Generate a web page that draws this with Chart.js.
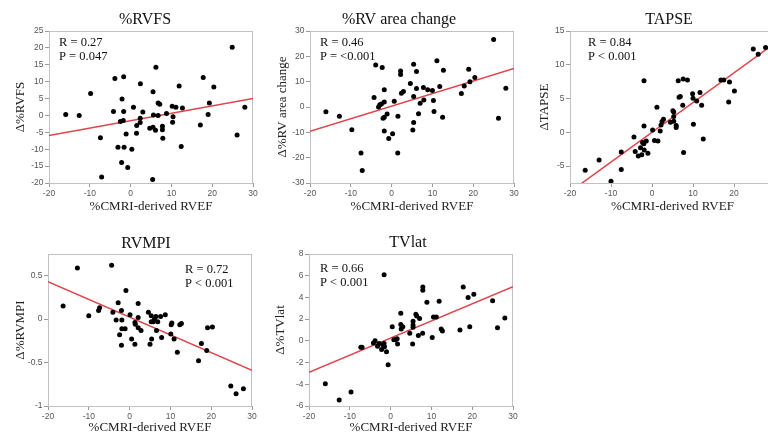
<!DOCTYPE html>
<html lang="en">
<head>
    <meta charset="UTF-8">
    <title>Echo indices vs CMRI RVEF</title>
    <script src="https://cdn.jsdelivr.net/npm/chart.js@4.4.0/dist/chart.umd.min.js"></script>
    <style type="text/css">
        html, body {
            margin: 0; padding: 0;
            background: #fff;
            overflow: hidden;
        }
        #container {
            position: relative;
            width: 768px;
            height: 434px;
            overflow: hidden;
        }
        #container canvas {
            position: absolute;
        }
    </style>
</head>

<body>
    <div id="container"></div>

    <script>
        // x axis is the same on every panel
        const xTicks = [-20, -10, 0, 10, 20, 30];

        // %RVFS
        const rvfsPts = [
            [-15.9, 0.3], [-12.6, 0], [-9.8, 6.5], [-7.4, -6.6], [-7.1, -18.2], [-3.85, 10.95],
            [-4.2, 1.2], [-3.1, -9.4], [-1.7, 11.45], [-2.1, 4.9], [-1.7, 1.2], [-2.5, -1.8],
            [-1.8, -1.5], [-2.2, -13.9], [-1.6, -9.4], [-1.1, -5.5], [-0.7, -15.4], [0.3, -10.0],
            [0.7, 2.4], [1.5, -3.0], [1.45, -5.3], [2.4, 9.4], [2.35, -0.8], [2.35, -2.1],
            [3.0, 1.0], [4.7, -3.8], [5.5, -3.5], [5.5, 7.0], [5.6, 0.1], [6.2, 14.3],
            [6.1, -4.4], [6.75, 0], [6.75, 3.7], [7.15, 3.3], [7.8, -3.2], [7.8, -4.2],
            [7.9, -6.75], [8.8, 0.6], [5.4, -19.0], [10.2, 2.7], [10.4, -0.4], [10.3, -2.0],
            [11.1, 2.4], [11.9, 8.7], [12.7, 2.2], [12.4, -9.2], [17.1, -2.8], [17.8, 11.25],
            [19.0, 0.3], [19.3, 3.7], [20.4, 8.4], [24.9, 20.2], [26.1, -5.8], [28.0, 2.4]
        ];
        const rvfsFit = [[-20, -5.96], [30, 5.0]];
        const rvfsTicks = [-20, -15, -10, -5, 0, 5, 10, 15, 20, 25];

        // %RV area change
        const rvacPts = [
            [-16.1, -1.9], [-12.8, -3.7], [-9.75, -9.0], [-7.5, -18.2], [-7.2, -25.1], [-4.3, 3.75],
            [-3.9, 16.6], [-3.2, 0], [-2.9, 0.9], [-2.5, 1.2], [-2.3, 15.6], [-2.1, -4.4],
            [-1.8, -4.0], [-1.8, 6.8], [-1.8, 2.0], [-1.8, -9.5], [-1.1, -2.8], [-0.7, -12.4],
            [0.25, -10.6], [0.65, 2.3], [1.55, -3.7], [1.5, -18.2], [2.2, 14.2], [2.2, 12.8],
            [2.4, 5.4], [2.9, 6.1], [4.6, 9.3], [5.4, 16.9], [5.4, 4.1], [5.4, -6.1],
            [5.2, -9.1], [6.1, 7.3], [6.1, 14.0], [6.6, -2.7], [7.0, 1.5], [7.8, 7.7],
            [7.9, 2.8], [8.85, 6.8], [10.0, 6.5], [10.25, 2.6], [10.4, -1.8], [11.1, 18.3],
            [11.8, 8.1], [12.5, -4.0], [12.7, 14.5], [17.1, 5.3], [17.8, 8.3], [18.9, 14.9],
            [19.2, 10.0], [20.4, 11.6], [25.0, 26.6], [26.2, -4.4], [28.0, 7.4]
        ];
        const rvacFit = [[-20, -9.6], [30, 15.2]];
        const rvacTicks = [-30, -20, -10, 0, 10, 20, 30];

        // TAPSE
        const tapsePts = [
            [-16.3, -5.6], [-12.9, -4.1], [-10.0, -7.25], [-7.5, -2.9], [-7.5, -5.5], [-4.4, -0.7],
            [-4.1, -2.85], [-3.35, -3.5], [-2.8, -2.3], [-2.5, -3.3], [-2.3, -1.5], [-2.0, -1.7],
            [-1.95, 7.65], [-1.95, 0.95], [-1.9, -2.6], [-1.4, -1.3], [-1.0, -3.1], [0.15, 0.35],
            [0.6, -1.2], [1.45, -1.3], [1.2, 3.7], [2.0, 0.2], [2.2, 1.1], [2.45, 1.6],
            [2.8, 1.95], [4.5, 1.5], [5.1, 3.2], [5.3, 3.0], [5.3, 2.35], [5.3, 1.65],
            [5.9, 1.0], [5.9, 0.7], [6.4, 7.65], [6.6, 5.2], [6.9, 5.3], [7.6, 7.9],
            [7.5, 4.0], [7.7, -3.0], [8.65, 7.75], [9.9, 5.7], [10.0, 5.05], [10.1, 1.2],
            [10.9, 4.65], [11.7, 5.9], [12.1, 4.0], [12.5, -1.0], [16.8, 7.75], [17.5, 7.75],
            [18.9, 7.45], [18.7, 4.5], [20.1, 6.1], [24.7, 12.35], [25.9, 11.55], [27.7, 12.55]
        ];
        const tapseFit = [[-20, -8.8], [30, 13.2]];
        const tapseTicks = [-5, 0, 5, 10, 15];

        // RVMPI
        const rvmpiPts = [
            [-16.3, 0.15], [-12.8, 0.59], [-10.0, 0.04], [-7.6, 0.10], [-7.35, 0.13], [-4.4, 0.62],
            [-4.1, 0.08], [-3.3, -0.01], [-2.8, 0.19], [-2.45, -0.18], [-2.0, 0.10], [-1.9, -0.01],
            [-1.9, -0.11], [-2.0, -0.30], [-1.1, -0.11], [-0.9, 0.33], [0.1, 0.05], [0.5, -0.23],
            [1.3, -0.04], [1.4, -0.06], [1.3, -0.29], [2.1, 0.18], [2.1, 0.02], [2.1, -0.10],
            [2.8, -0.13], [4.6, 0.08], [5.0, -0.29], [5.4, -0.23], [5.3, -0.03], [5.3, 0.04],
            [5.8, -0.03], [6.1, 0.0], [6.45, 0.03], [6.6, -0.13], [6.9, -0.03], [7.6, 0.03],
            [7.85, -0.21], [8.75, 0.05], [10.1, -0.17], [10.2, -0.065], [10.35, -0.045], [10.9, -0.23],
            [11.7, -0.38], [12.3, -0.065], [12.7, -0.05], [16.9, -0.48], [17.6, -0.28], [18.9, -0.36],
            [19.1, -0.10], [20.3, -0.09], [24.8, -0.77], [26.1, -0.86], [27.9, -0.80]
        ];
        const rvmpiFit = [[-20, 0.43], [30, -0.59]];
        const rvmpiTicks = [-1, -0.5, 0, 0.5];

        // TVlat
        const tvlatPts = [
            [-16.0, -3.95], [-12.6, -5.45], [-9.7, -4.7], [-7.3, -0.6], [-7.0, -0.6], [-4.2, -0.2],
            [-3.8, 0.0], [-3.2, -0.5], [-2.8, -0.25], [-2.2, -0.8], [-1.9, -0.35], [-1.6, 6.1],
            [-1.5, -0.55], [-1.6, -0.25], [-1.0, -1.0], [-0.6, -2.2], [0.4, 1.3], [0.8, 0.1],
            [1.2, 0.1], [1.6, 0.2], [1.7, -0.3], [2.5, 2.55], [2.5, 1.5], [2.6, 1.1],
            [3.0, 1.3], [4.7, 0.7], [5.4, -0.3], [5.5, 1.8], [5.5, 1.45], [5.5, 1.25],
            [6.2, 2.45], [6.4, 2.3], [6.8, 0.5], [7.1, 2.05], [7.85, 0.7], [7.9, 4.95],
            [7.9, 4.65], [8.9, 3.55], [10.2, 0.3], [10.5, 2.2], [11.2, 2.2], [11.9, 3.65],
            [12.4, 1.1], [12.7, 0.9], [17.0, 1.0], [17.8, 4.95], [19.0, 4.0], [19.4, 1.3],
            [20.4, 4.3], [25.0, 3.7], [26.2, 1.2], [28.0, 2.1]
        ];
        const tvlatFit = [[-20, -2.9], [30, 5.0]];
        const tvlatTicks = [-6, -4, -2, 0, 2, 4, 6, 8];

        // Panel table: where each small chart sits and what it says
        const CANVAS_W = 270, CANVAS_H = 230;
        const panels = [
            { title: '%RVFS', yTitle: 'Δ%RVFS', stats: ['R = 0.27', 'P = 0.047'],
              pts: rvfsPts, fit: rvfsFit, yMin: -20, yMax: 25, yTicks: rvfsTicks,
              x: 0, y: 0, area: { left: 49, top: 31, right: 253, bottom: 183 },
              titleAt: [145, 20], statsAt: [59, 43], yTitleX: 21, xTitleY: 207 },
            { title: '%RV area change', yTitle: 'Δ%RV area change', stats: ['R = 0.46', 'P = <0.001'],
              pts: rvacPts, fit: rvacFit, yMin: -30, yMax: 30, yTicks: rvacTicks,
              x: 256, y: 0, area: { left: 54, top: 31, right: 258, bottom: 183 },
              titleAt: [143, 20], statsAt: [64, 43], yTitleX: 27, xTitleY: 207 },
            { title: 'TAPSE', yTitle: 'ΔTAPSE', stats: ['R = 0.84', 'P < 0.001'],
              pts: tapsePts, fit: tapseFit, yMin: -7.5, yMax: 15, yTicks: tapseTicks,
              x: 512, y: 0, area: { left: 58, top: 31, right: 263, bottom: 183 },
              titleAt: [157, 20], statsAt: [76, 43], yTitleX: 33, xTitleY: 207 },
            { title: 'RVMPI', yTitle: 'Δ%RVMPI', stats: ['R = 0.72', 'P < 0.001'],
              pts: rvmpiPts, fit: rvmpiFit, yMin: -1, yMax: 0.75, yTicks: rvmpiTicks,
              x: 0, y: 217, area: { left: 48, top: 37, right: 252, bottom: 189 },
              titleAt: [146, 27], statsAt: [185, 53], yTitleX: 21, xTitleY: 211 },
            { title: 'TVlat', yTitle: 'Δ%TVlat', stats: ['R = 0.66', 'P < 0.001'],
              pts: tvlatPts, fit: tvlatFit, yMin: -6, yMax: 8, yTicks: tvlatTicks,
              x: 256, y: 217, area: { left: 53, top: 37, right: 257, bottom: 189 },
              titleAt: [152, 26], statsAt: [64, 52], yTitleX: 25, xTitleY: 211 }
        ];

        const SERIF = "'Liberation Serif', 'Times New Roman', serif";
        const SANS = "'Liberation Sans', Arial, sans-serif";

        // Draws the grey frame round the plot area, then title and R/P text
        const panelText = {
            id: 'panelText',
            beforeDatasetsDraw(chart, args, opts) {
                const a = chart.chartArea;
                const ctx = chart.ctx;
                ctx.save();
                ctx.strokeStyle = '#c2c2c2';
                ctx.lineWidth = 1;
                ctx.strokeRect(a.left + 0.5, a.top + 0.5, a.right - a.left - 1, a.bottom - a.top);
                ctx.restore();
            },
            afterDraw(chart, args, opts) {
                const p = opts.panel;
                const ctx = chart.ctx;
                ctx.save();
                ctx.fillStyle = '#111';
                ctx.textBaseline = 'middle';
                ctx.textAlign = 'center';
                ctx.font = '16px ' + SERIF;
                ctx.fillText(p.title, p.titleAt[0], p.titleAt[1]);
                ctx.textAlign = 'left';
                ctx.font = '12.5px ' + SERIF;
                p.stats.forEach((s, i) => {
                    ctx.fillText(s, p.statsAt[0], p.statsAt[1] + i * 13.5);
                });
                ctx.restore();
            }
        };

        function addPanel(container, p) {
            const canvas = document.createElement('canvas');
            canvas.width = CANVAS_W;
            canvas.height = CANVAS_H;
            canvas.style.left = p.x + 'px';
            canvas.style.top = p.y + 'px';
            container.appendChild(canvas);

            const tickFont = { family: SANS, size: 8.5 };
            const titleFont = { family: SERIF, size: 13, lineHeight: 1.2 };

            const config = {
                type: 'scatter',
                data: {
                    datasets: [
                        {
                            data: p.pts.map(d => ({ x: d[0], y: d[1] })),
                            backgroundColor: '#000',
                            borderWidth: 0,
                            pointRadius: 2.5,
                        },
                        {
                            data: p.fit.map(d => ({ x: d[0], y: d[1] })),
                            showLine: true,
                            borderColor: '#e0444c',
                            borderWidth: 1.5,
                            pointRadius: 0,
                        }
                    ]
                },
                options: {
                    responsive: false,
                    animation: false,
                    events: [],
                    layout: {
                        padding: { left: 0, top: p.area.top, right: CANVAS_W - p.area.right, bottom: 0 }
                    },
                    plugins: {
                        legend: { display: false },
                        title: { display: false },
                        tooltip: { enabled: false },
                        panelText: { panel: p },
                    },
                    scales: {
                        x: {
                            type: 'linear',
                            min: -20,
                            max: 30,
                            afterBuildTicks: s => { s.ticks = xTicks.map(v => ({ value: v })); },
                            afterFit: s => {
                                s.height = CANVAS_H - p.area.bottom;
                                s.paddingLeft = 0;
                                s.paddingRight = 0;
                            },
                            border: { display: false },
                            grid: { drawOnChartArea: false, drawTicks: true, tickLength: 4, color: '#9a9a9a' },
                            ticks: { font: tickFont, color: '#555', padding: 1.5, maxRotation: 0, autoSkip: false,
                                     callback: v => String(v) },
                            title: {
                                display: true,
                                text: '%CMRI-derived RVEF',
                                font: titleFont,
                                color: '#222',
                                padding: { top: 0, bottom: CANVAS_H - 7.8 - p.xTitleY },
                            }
                        },
                        y: {
                            type: 'linear',
                            min: p.yMin,
                            max: p.yMax,
                            afterBuildTicks: s => { s.ticks = p.yTicks.map(v => ({ value: v })); },
                            afterFit: s => {
                                s.width = p.area.left;
                                s.paddingTop = 0;
                                s.paddingBottom = 0;
                            },
                            border: { display: false },
                            grid: { drawOnChartArea: false, drawTicks: true, tickLength: 4, color: '#9a9a9a' },
                            ticks: { font: tickFont, color: '#555', padding: 1.5, autoSkip: false,
                                     callback: v => String(v) },
                            title: {
                                display: true,
                                text: p.yTitle,
                                font: titleFont,
                                color: '#222',
                                padding: { top: p.yTitleX - 7.8, bottom: 0 },
                            }
                        }
                    }
                },
                plugins: [panelText]
            };
            return new Chart(canvas, config);
        }

        const container = document.getElementById('container');
        panels.forEach(p => addPanel(container, p));
    </script>
</body>

</html>
